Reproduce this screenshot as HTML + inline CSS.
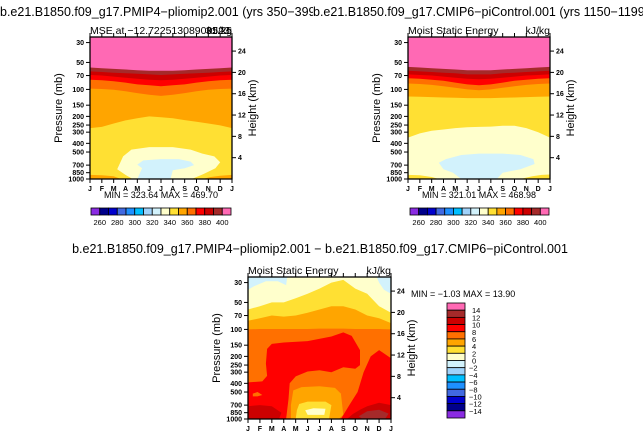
<!DOCTYPE html>
<html><head><meta charset="utf-8"><style>
html,body{margin:0;padding:0;background:#fff;}
svg text{font-family:"Liberation Sans",sans-serif;}
</style></head><body>
<svg id="fig" width="643" height="438" viewBox="0 0 643 438" xmlns="http://www.w3.org/2000/svg">
<text x="0" y="16" font-size="12.5">b.e21.B1850.f09_g17.PMIP4−pliomip2.001 (yrs 350−399)</text>
<rect x="313" y="3" width="330" height="16" fill="#fff"/>
<text x="313" y="16" font-size="12.5">b.e21.B1850.f09_g17.CMIP6−piControl.001 (yrs 1150−1199)</text>
<text x="320" y="253" font-size="12.5" text-anchor="middle">b.e21.B1850.f09_g17.PMIP4−pliomip2.001 − b.e21.B1850.f09_g17.CMIP6−piControl.001</text>
</svg>
<script>
const months=['J','F','M','A','M','J','J','A','S','O','N','D','J'];
const pTicks=[30,50,70,100,150,200,250,300,400,500,700,850,1000];
const zTicks=[4,8,12,16,20,24];
const absLevels=[260,270,280,290,300,310,320,330,340,350,360,370,380,390,400];
const absLabels=[260,280,300,320,340,360,380,400];
const diffLabels=[14,12,10,8,6,4,2,0,-2,-4,-6,-8,-10,-12,-14];
const C=['#8a2be2','#00008b','#0000cd','#4169e1','#1e90ff','#00bfff','#a0d2fa','#d2f2fc','#ffffcc','#ffe033','#ffa500','#ff7000','#ff0000','#cc0000','#a52a2a','#ff69b4'];
const plioBands=[[15,[26,26,26,26,26,26,26,26,26,26,26,26,26]],[14,[57,58,59,60,61,62,62,62,61,60,59,58,57]],[13,[63,64,65,66,67,68,69,68,67,66,65,64,63]],[12,[69,70,72,74,76,78,79,78,76,74,72,70,69]],[11,[78,79,81,84,88,90,92,90,88,84,81,79,78]],[10,[98,99,101,105,110,115,118,115,110,105,101,99,98]],[9,[270,262,240,222,210,200,205,210,220,230,240,252,270]]];
const plioBlobs=[[10,[[0,900],[1,910],[2,930],[2.6,1000],[0,1000]]],[10,[[9.5,1000],[10.2,950],[11,920],[12,900],[12,1000]]],[8,[[2.3,780],[2.8,560],[3.5,470],[5,440],[7,440],[8.5,470],[9.5,520],[10.5,560],[11,650],[10.6,760],[9.6,880],[8.6,1000],[3.6,1000],[3,900]]],[7,[[4,690],[4.5,620],[6,600],[7.5,600],[8.5,640],[8.8,700],[8,760],[7,800],[6.8,1000],[4,1000],[4.4,760]]]];
const piBands=[[15,[26,26,26,26,26,26,26,26,26,26,26,26,26]],[14,[56,57,58,59,60,61,61,61,60,59,58,57,56]],[13,[62,63,64,65,66,68,68,68,66,65,64,63,62]],[12,[68,69,70,72,74,76,77,76,74,72,70,69,68]],[11,[75,76,78,80,84,88,90,88,84,80,78,76,75]],[10,[86,87,89,92,96,100,102,100,96,92,89,87,86]],[9,[120,121,122,123,124,125,125,125,124,123,122,121,120]],[8,[345,310,290,280,270,265,262,260,255,255,270,300,345]]];
const piBlobs=[[9,[[0,900],[1,910],[2,950],[2.6,1000],[0,1000]]],[9,[[9.5,1000],[10.5,930],[11.3,900],[12,890],[12,1000]]],[7,[[2.6,660],[3.2,600],[4.5,540],[6,520],[8,520],[9.5,540],[10.6,600],[10.7,680],[9.5,780],[8,850],[7.5,1000],[4.5,1000],[3.8,850],[3,780]]]];
const diffBands=[[8,[26,26,26,26,26,26,26,26,26,26,26,26,26]],[9,[60,55,50,50,45,40,35,30,28,35,40,55,65]],[10,[80,75,70,72,70,65,60,55,55,60,70,75,85]],[11,[100,99,99,99,99,99,98,98,98,99,99,99,100]]];
const diffBlobs=[[7,[[0,26],[3.3,26],[3.2,32],[2.5,29],[1.5,29],[0.5,33],[0,36]]],[7,[[10.8,26],[12,26],[12,40],[11.4,36],[11,30]]],[12,[[1.6,165],[2,145],[3,140],[5,135],[7,120],[8,108],[8.7,118],[9.4,170],[9.4,250],[9,275],[8,265],[7,300],[6,285],[5,295],[4,335],[3.5,400],[3.4,600],[3.2,1000],[0,1000],[0,390],[1.2,380],[1.6,330],[1.5,240]]],[12,[[10.3,200],[11,170],[12,210],[12,1000],[7.8,1000],[8.5,700],[9.2,500],[9.7,300]]],[11,[[0.4,520],[0.8,500],[1.2,540],[0.8,560],[0.4,560]]],[10,[[3.8,480],[4.5,440],[6,430],[7.3,450],[7.8,520],[8,900],[7.6,1000],[3.6,1000],[3.6,700]]],[9,[[4.3,680],[5,640],[6.5,640],[7,700],[6.8,1000],[4,1000],[4.1,800]]],[8,[[4.8,800],[5.5,760],[6.5,770],[6.4,900],[5,900]]],[13,[[0,720],[1,700],[2,720],[2.8,850],[2.6,1000],[0,1000]]],[13,[[8.3,1000],[8.8,880],[9.4,790],[10,720],[11,660],[12,700],[12,1000]]],[14,[[9.3,930],[10,820],[11,790],[11.8,870],[11.5,1000],[9.6,1000]]]];
const NS='http://www.w3.org/2000/svg';
const svg=document.getElementById('fig');
function el(tag,attrs,parent,txt){const e=document.createElementNS(NS,tag);for(const k in attrs)e.setAttribute(k,attrs[k]);if(txt!==undefined)e.textContent=txt;(parent||svg).appendChild(e);return e;}
const PT=26,PB=1000;
function panel(id,L,T,W,H,bands,blobs,subL,subR,minmax){
  const xs=m=>L+m*W/12;
  const ys=p=>T+Math.log(p/PT)/Math.log(PB/PT)*H;
  const g=el('g',{},svg);
  
  
  const cp=el('clipPath',{id:id+'clip'},g);el('rect',{x:L,y:T,width:W,height:H},cp);
  const fg=el('g',{'clip-path':'url(#'+id+'clip)'},g);
  bands.forEach((b,k)=>{
    let pts=b[1].map((p,i)=>xs(i).toFixed(1)+','+ys(p).toFixed(1));
    pts.push(xs(12)+','+ys(PB),xs(0)+','+ys(PB));
    const e=el('polygon',{points:pts.join(' '),fill:C[b[0]]},fg);
    
    
  });
  blobs.forEach(b=>{
    const pts=b[1].map(q=>xs(q[0]).toFixed(1)+','+ys(q[1]).toFixed(1));
    const e=el('polygon',{points:pts.join(' '),fill:C[b[0]]},fg);
    
    
  });
  const fr=el('rect',{x:L,y:T,width:W,height:H,fill:'none',stroke:'#000','stroke-width':1.3},g);
  
  
  months.forEach((m,i)=>{
    const x=xs(i);
    el('line',{x1:x,y1:T+H,x2:x,y2:T+H+4,stroke:'#000'},g);
    el('line',{x1:x,y1:T,x2:x,y2:T-4,stroke:'#000'},g);
    const t=el('text',{x:x,y:T+H+12,'font-size':7,'font-weight':'bold','text-anchor':'middle'},g,m);
    
    
  });
  pTicks.forEach(p=>{
    const y=ys(p);
    el('line',{x1:L,y1:y,x2:L-4,y2:y,stroke:'#000'},g);
    const t=el('text',{x:L-6,y:y+2.5,'font-size':7,'font-weight':'bold','text-anchor':'end'},g,p);
    
    
  });
  zTicks.forEach(z=>{
    const y=ys(1000*Math.exp(-z/7.3));
    el('line',{x1:L+W,y1:y,x2:L+W+4,y2:y,stroke:'#000'},g);
    const t=el('text',{x:L+W+6,y:y+2.5,'font-size':7,'font-weight':'bold'},g,z);
    
    
  });
  const yl=el('text',{x:0,y:0,'font-size':11,'text-anchor':'middle',transform:'translate('+(L-28)+','+(T+H/2)+') rotate(-90)'},g,'Pressure (mb)');
  
  
  const yr=el('text',{x:0,y:0,'font-size':11,'text-anchor':'middle',transform:'translate('+(L+W+24)+','+(T+H/2)+') rotate(-90)'},g,'Height (km)');
  
  
  const sl=el('text',{x:L,y:T-3,'font-size':10.5},g,subL);
  
  
  const sr=el('text',{x:L+W,y:T-3,'font-size':10.5,'text-anchor':'end'},g,subR);
  
  
  if(minmax){
    const mm=el('text',{x:minmax[0],y:minmax[1],'font-size':9,'text-anchor':minmax[2]},g,minmax[3]);
    
    
  }
}
panel('pliomip',90,37,142,142,plioBands,plioBlobs,'MSE at −12.72251308900523','kJ/kg',[161,198,'middle','MIN = 323.64 MAX = 469.70']);
const extra=el('text',{x:232,y:34,'font-size':10.5,'text-anchor':'end'},svg,'31.25');


panel('picontrol',408,37,142,142,piBands,piBlobs,'Moist Static Energy','kJ/kg',[479,198,'middle','MIN = 321.01 MAX = 468.98']);
panel('difference',248,277,143,142,diffBands,diffBlobs,'Moist Static Energy','kJ/kg',[411,297,'start','MIN =  −1.03 MAX =  13.90']);
function hbar(L,T,W,H){
  const bw=W/16;
  const g=el('g',{},svg);
  
  
  C.forEach((c,i)=>{const r=el('rect',{x:L+i*bw,y:T,width:bw,height:H,fill:c,stroke:'#000','stroke-width':0.8},g);
    
    });
  absLabels.forEach(v=>{const i=absLevels.indexOf(v)+1;
    const t=el('text',{x:L+i*bw,y:T+H+10,'font-size':7.5,'text-anchor':'middle'},g,v);
    
    });
}
hbar(91,208,140,7);hbar(410,208,139,7);
(function(){
  const L=447,T=303,W=18,H=115,bh=H/16;
  const g=el('g',{},svg);
  
  
  C.slice().reverse().forEach((c,i)=>{const r=el('rect',{x:L,y:T+i*bh,width:W,height:bh,fill:c,stroke:'#000','stroke-width':0.8},g);
    
    });
  diffLabels.forEach((v,i)=>{const t=el('text',{x:v<0?469:472,y:T+(i+1)*bh+3,'font-size':7.5},g,v<0?'−'+(-v):v);
    
    });
})();
</script>
</body></html>
